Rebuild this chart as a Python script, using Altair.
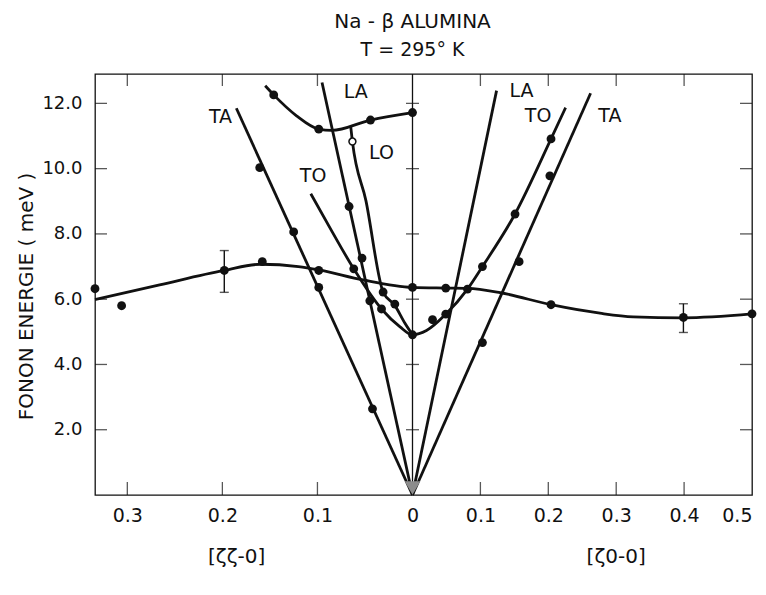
import altair as alt
import pandas as pd

K = 1.4          # [zz-0] side is drawn 1.4x wider per unit zeta than the [z0-0] side
XMIN, XMAX = -K * 0.334, 0.5
YMAX = 12.9
FONT = "DejaVu Sans"
INK = "#111111"

# ---------------- smooth guide curves (zeta, energy in meV) ----------------
upper_L_q = [0.155, 0.146, 0.122, 0.0986, 0.085, 0.0442, 0.0]
upper_L_E = [12.54, 12.26, 11.62, 11.21, 11.17, 11.49, 11.72]

lo_L_q = [0.065, 0.0632, 0.049, 0.0309, 0.0186, 0.0081, 0.0]
lo_L_E = [11.29, 10.83, 9.02, 6.22, 5.81, 5.27, 4.91]

to_L_q = [0.107, 0.0846, 0.0618, 0.0326, 0.0134, 0.0]
to_L_E = [9.23, 8.07, 6.93, 5.70, 5.16, 4.91]
to_R_q = [0.0206, 0.049, 0.081, 0.103, 0.151, 0.204, 0.2255]
to_R_E = [5.04, 5.54, 6.31, 7.00, 8.61, 10.91, 11.87]

flat_L_q = [0.334, 0.266, 0.198, 0.160, 0.120, 0.0986, 0.052, 0.0]
flat_L_E = [5.99, 6.44, 6.88, 7.07, 7.00, 6.90, 6.59, 6.36]
flat_R_q = [0.049, 0.081, 0.129, 0.204, 0.276, 0.325, 0.399, 0.5]
flat_R_E = [6.34, 6.33, 6.20, 5.83, 5.57, 5.46, 5.43, 5.55]

# straight acoustic branches from Gamma to their upper end
ta_L_end = [0.1853, 11.85]
la_L_end = [0.0952, 12.64]
la_R_end = [0.1238, 12.39]
ta_R_end = [0.2623, 12.31]

# ---------------- measured points ----------------
pts_L_q = [0.146, 0.0986, 0.0442, 0.0,            # upper optic
           0.1607, 0.125, 0.0986, 0.0421,         # TA
           0.0667, 0.0531, 0.0449,                # LA
           0.0618, 0.0326,                        # TO
           0.0309, 0.0186,                        # LO
           0.334, 0.306, 0.198, 0.158, 0.0986, 0.0,  # flat optic
           0.0]                                   # minimum
pts_L_E = [12.26, 11.21, 11.49, 11.72,
           10.03, 8.06, 6.36, 2.64,
           8.84, 7.26, 5.95,
           6.93, 5.70,
           6.22, 5.85,
           6.32, 5.80, 6.88, 7.15, 6.88, 6.36,
           4.91]
pts_R_q = [0.049, 0.204, 0.399, 0.5,              # flat optic
           0.0295, 0.049, 0.081, 0.103, 0.151, 0.204,  # TO
           0.103, 0.157, 0.2023]                  # TA
pts_R_E = [6.34, 5.83, 5.44, 5.55,
           5.37, 5.54, 6.31, 7.00, 8.61, 10.91,
           4.67, 7.15, 9.78]

open_L_q = [0.0632]
open_L_E = [10.83]

# error bars
err_side = ["L", "R"]
err_q = [0.198, 0.399]
err_lo = [6.21, 4.98]
err_hi = [7.49, 5.86]

# branch labels
lab_text = ["TA", "LA", "LO", "TO", "LA", "TO", "TA"]
lab_side = ["L", "L", "L", "L", "R", "R", "R"]
lab_q = [0.202, 0.0597, 0.0326, 0.1046, 0.1606, 0.185, 0.2907]
lab_E = [11.58, 12.36, 10.49, 9.76, 12.39, 11.62, 11.60]

# axis ticks
xtick_L = [0.3, 0.2, 0.1]
xtick_R = [0.1, 0.2, 0.3, 0.4, 0.5]
ytick = [2, 4, 6, 8, 10, 12]


def sx(q, side):
    return -K * q if side == "L" else q


def curve(name, qs, Es, side):
    return pd.DataFrame({"curve": name, "x": [sx(q, side) for q in qs], "E": Es})


lines = pd.concat([
    curve("upper", upper_L_q, upper_L_E, "L"),
    curve("LO", lo_L_q, lo_L_E, "L"),
    curve("TO", to_L_q, to_L_E, "L"), curve("TO", to_R_q, to_R_E, "R"),
    curve("flat", flat_L_q, flat_L_E, "L"), curve("flat", flat_R_q, flat_R_E, "R"),
    curve("TA_L", [0.0, ta_L_end[0]], [0.0, ta_L_end[1]], "L"),
    curve("LA_L", [0.0, la_L_end[0]], [0.0, la_L_end[1]], "L"),
    curve("LA_R", [0.0, la_R_end[0]], [0.0, la_R_end[1]], "R"),
    curve("TA_R", [0.0, ta_R_end[0]], [0.0, ta_R_end[1]], "R"),
], ignore_index=True)

points = pd.concat([
    pd.DataFrame({"x": [sx(q, "L") for q in pts_L_q], "E": pts_L_E}),
    pd.DataFrame({"x": [sx(q, "R") for q in pts_R_q], "E": pts_R_E}),
], ignore_index=True)
opens = pd.DataFrame({"x": [sx(q, "L") for q in open_L_q], "E": open_L_E})
errs = pd.DataFrame({"x": [sx(q, s) for q, s in zip(err_q, err_side)],
                     "E": err_lo, "E2": err_hi})
labels = pd.DataFrame({"x": [sx(q, s) for q, s in zip(lab_q, lab_side)],
                       "E": lab_E, "t": lab_text})
origin = pd.DataFrame({"x": [0.0], "E": [0.0]})
xt = pd.DataFrame({"x": [sx(q, "L") for q in xtick_L] + [sx(q, "R") for q in xtick_R[:-1]],
                   "E": 0.0, "Etop": YMAX})
yt = pd.DataFrame({"E": ytick, "x": 0.0, "xl": XMIN, "xr": XMAX})
dirlab = pd.DataFrame({"x": [sx(0.185, "L"), sx(0.30, "R")], "t": ["[ζζ-0]", "[ζ0-0]"]})

label_expr = ("datum.value < -0.0001 ? format(-datum.value/1.4, '.1f') : "
              "(abs(datum.value) < 0.0001 ? '0' : format(datum.value, '.1f'))")

XSCALE = alt.Scale(domain=[XMIN, XMAX], nice=False, zero=False)
YSCALE = alt.Scale(domain=[0, YMAX], nice=False, zero=False)
XAXIS = alt.Axis(values=[sx(q, "L") for q in xtick_L] + [0.0] + xtick_R,
                 labelExpr=label_expr, title=None, ticks=False, domain=False, grid=False,
                 labelFont=FONT, labelFontSize=19, labelColor=INK, labelPadding=11,
                 labelFlush=True)
YAXIS = alt.Axis(values=ytick, format=".1f", ticks=False, domain=False, grid=False,
                 labelFont=FONT, labelFontSize=18, labelColor=INK, labelPadding=13,
                 title="FONON ENERGIE ( meV )", titleFont=FONT, titleFontSize=20,
                 titleFontWeight="normal", titleColor=INK, titleX=-69, titleY=222,
                 titleBaseline="middle", titleAlign="center", titleAngle=270)


def X(field="x"):
    return alt.X(f"{field}:Q", scale=XSCALE, axis=XAXIS)


def Y(field="E"):
    return alt.Y(f"{field}:Q", scale=YSCALE, axis=YAXIS)


base = alt.Chart(lines).mark_line(interpolate="monotone", color=INK, strokeWidth=2.8).encode(
    x=X(), y=Y(), detail="curve:N")

center = alt.Chart(origin).mark_rule(color=INK, strokeWidth=1.3).encode(x=X())

TK = dict(thickness=1.3, color=INK)
bticks = alt.Chart(xt).mark_tick(orient="vertical", size=26, clip=True, **TK).encode(
    x=X(), y=Y("E"))
tticks = alt.Chart(xt).mark_tick(orient="vertical", size=24, clip=True, **TK).encode(
    x=X(), y=Y("Etop"))
lticks = alt.Chart(yt).mark_tick(orient="horizontal", size=24, clip=True, **TK).encode(
    x=X("xl"), y=Y())
rticks = alt.Chart(yt).mark_tick(orient="horizontal", size=24, clip=True, **TK).encode(
    x=X("xr"), y=Y())
cticks = alt.Chart(yt).mark_tick(orient="horizontal", size=13, **TK).encode(
    x=X("x"), y=Y())

err_rule = alt.Chart(errs).mark_rule(color=INK, strokeWidth=1.4).encode(
    x=X(), y=Y("E"), y2="E2:Q")
err_cap_lo = alt.Chart(errs).mark_tick(orient="horizontal", size=9, thickness=1.4,
                                       color=INK).encode(x=X(), y=Y("E"))
err_cap_hi = alt.Chart(errs).mark_tick(orient="horizontal", size=9, thickness=1.4,
                                       color=INK).encode(x=X(), y=Y("E2"))

dots = alt.Chart(points).mark_point(shape="circle", filled=True, size=78, color=INK,
                                    opacity=1).encode(x=X(), y=Y())
odots = alt.Chart(opens).mark_point(shape="circle", filled=True, size=48, fill="white",
                                    stroke=INK, strokeWidth=1.5, opacity=1).encode(x=X(), y=Y())

gamma = alt.Chart(origin).mark_point(shape="triangle-down", filled=True, size=250,
                                     color="#8c8c8c", opacity=1, yOffset=-7).encode(x=X(), y=Y())

btext = alt.Chart(labels).mark_text(font=FONT, fontSize=19, color=INK).encode(
    x=X(), y=Y(), text="t:N")

dtext = alt.Chart(dirlab).mark_text(font=FONT, fontSize=20, color=INK,
                                    baseline="middle").encode(
    x=X(), y=alt.value(483), text="t:N")

sep = alt.Chart(origin).mark_rule(color="#8a8a8a", strokeWidth=2.2).encode(
    x=alt.value(-86), x2=alt.value(660), y=alt.value(512))

chart = alt.layer(
    base, center, bticks, tticks, lticks, rticks, cticks,
    err_rule, err_cap_lo, err_cap_hi, dots, odots, gamma, btext, dtext, sep,
).properties(
    width=657, height=421,
    title=alt.Title("Na - β ALUMINA", subtitle="T = 295° K", font=FONT, fontSize=20,
                    fontWeight="normal", color=INK, subtitleFont=FONT, subtitleFontSize=19,
                    subtitleColor=INK, subtitlePadding=9, offset=13, anchor="middle", dx=-11),
    autosize=alt.AutoSizeParams(type="none"),
    padding={"left": 87, "top": 66, "right": 6, "bottom": 90},
).configure_view(stroke=INK, strokeWidth=1.3)

chart.save("out.html", embed_options={"renderer": "svg", "actions": False})
